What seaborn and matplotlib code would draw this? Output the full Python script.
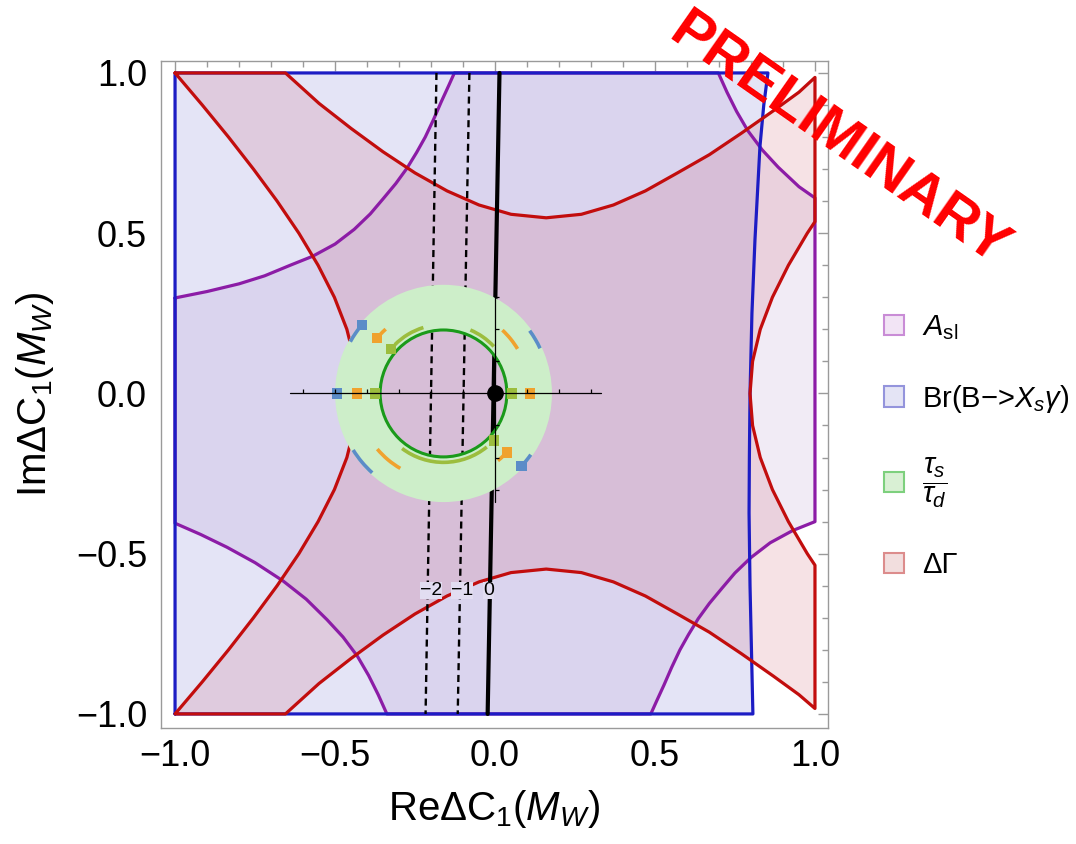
import numpy as np
import matplotlib
matplotlib.use("Agg")
import matplotlib.pyplot as plt
from matplotlib.patches import Patch, Annulus, Arc
from matplotlib.ticker import MultipleLocator, FuncFormatter
import seaborn as sns

# boundaries of the allowed regions (Re, Im)
# Br(B -> X_s gamma)
br_x = [-1.0, -1.0, 0.853, 0.84, 0.828, 0.8125, 0.803, 0.797, 0.795, 0.794, 0.797, 0.806]
br_y = [-1.0, 1.0, 1.0, 0.9, 0.77, 0.48, 0.25, 0.0, -0.2, -0.373, -0.6, -1.0]

# A_sl
asl_x = [-1.0, -0.9, -0.8, -0.72, -0.64, -0.57, -0.5, -0.44, -0.39, -0.35, -0.31, -0.275,
         -0.245, -0.218, -0.192, -0.168, -0.145, -0.127,
         0.698, 0.725, 0.755, 0.79, 0.835, 0.885, 0.95, 1.0,
         1.0, 0.93, 0.86, 0.80, 0.75, 0.71, 0.67, 0.635, 0.605, 0.578, 0.552, 0.528, 0.505, 0.487,
         -0.338, -0.365, -0.395, -0.43, -0.475, -0.525, -0.59, -0.6625, -0.75, -0.8375, -0.92, -1.0]
asl_y = [0.298, 0.318, 0.342, 0.367, 0.4, 0.428, 0.466, 0.512, 0.56, 0.607, 0.655, 0.703,
         0.752, 0.8, 0.855, 0.91, 0.96, 1.0,
         1.0, 0.94, 0.88, 0.82, 0.76, 0.706, 0.645, 0.61,
         -0.4, -0.428, -0.466, -0.512, -0.56, -0.607, -0.655, -0.703, -0.752, -0.8, -0.855, -0.91, -0.96, -1.0,
         -1.0, -0.94, -0.88, -0.82, -0.76, -0.706, -0.642, -0.585, -0.528, -0.48, -0.44, -0.405]

# Delta Gamma
dg_x = [-1.0, -0.655, -0.55, -0.45, -0.35, -0.25, -0.15, -0.05, 0.05, 0.16, 0.27, 0.37, 0.47,
        0.57, 0.67, 0.77, 0.87, 0.95, 1.0,
        1.0, 0.976, 0.917, 0.867, 0.829, 0.805, 0.797, 0.805, 0.829, 0.867, 0.917, 0.976, 1.0,
        1.0, 0.95, 0.87, 0.77, 0.67, 0.57, 0.47, 0.37, 0.27, 0.16, 0.05, -0.05, -0.15, -0.25,
        -0.35, -0.45, -0.55, -0.655,
        -1.0, -0.915, -0.833, -0.755, -0.681, -0.613, -0.553, -0.502, -0.463, -0.438, -0.43,
        -0.438, -0.463, -0.502, -0.553, -0.613, -0.681, -0.755, -0.833, -0.915]
dg_y = [1.0, 1.0, 0.905, 0.827, 0.754, 0.688, 0.632, 0.588, 0.559, 0.548, 0.559, 0.588, 0.632,
        0.688, 0.745, 0.812, 0.882, 0.94, 0.986,
        0.536, 0.5, 0.4, 0.3, 0.2, 0.1, 0.0, -0.1, -0.2, -0.3, -0.4, -0.5, -0.536,
        -0.983, -0.94, -0.882, -0.812, -0.745, -0.688, -0.632, -0.588, -0.559, -0.548, -0.559,
        -0.588, -0.632, -0.688, -0.754, -0.827, -0.905, -1.0,
        -1.0, -0.9, -0.8, -0.7, -0.6, -0.5, -0.4, -0.3, -0.2, -0.1, 0.0,
        0.1, 0.2, 0.3, 0.4, 0.5, 0.6, 0.7, 0.8, 0.9]

# tau_s/tau_d band: ring centre and radii
tau_cx, tau_r_in, tau_r_out = -0.161, 0.198, 0.339

# contour lines (dashed -2, -1, thick 0)
c_m2_x, c_m2_y = [-0.183, -0.217], [1.0, -1.0]
c_m1_x, c_m1_y = [-0.080, -0.1165], [1.0, -1.0]
c_0_x, c_0_y = [0.014, -0.023], [1.0, -1.0]
c_labels = ["\u22122", "\u22121", "0"]
c_label_x = [-0.2, -0.103, -0.02]
c_label_y = -0.614

# dashed rings inside the band: radius, colour, arc pieces (deg), square markers (deg)
ring_r = [0.215, 0.27, 0.333]
ring_col = ["#9cbd3e", "#f0a22e", "#5b8cc8"]
ring_arcs = [[(107, 135), (43, 67), (233, 309)],
             [(31, 47), (220, 240), (132, 143), (-51, -40)],
             [(140, 151), (25, 36), (212, 228), (-43, -35)]]
ring_marks = [[0, 180, 140, -43],
              [0, 180, 140, -43],
              [180, 140, -43]]

cross_h = [-0.64, 0.33]
cross_v = [-0.34, 0.34]
cross_ticks_x = [-0.6, -0.5, -0.4, -0.3, -0.2, -0.1, 0.1, 0.2, 0.3]
cross_ticks_y = [-0.3, -0.2, -0.1, 0.1, 0.2, 0.3]

axis_ticks = [-1.0, -0.5, 0.0, 0.5, 1.0]

sns.set_theme(style="white")
plt.rcParams['font.family'] = ['Liberation Sans', 'DejaVu Sans']
plt.rcParams['mathtext.fontset'] = 'custom'
plt.rcParams['mathtext.rm'] = 'Liberation Sans'
plt.rcParams['mathtext.it'] = 'Liberation Sans:italic'
plt.rcParams['text.color'] = 'black'

fig = plt.figure(figsize=(10.76, 8.44), dpi=100)
ax = fig.add_axes([0.1496, 0.1374, 0.620, 0.7906])

blue_fill = (75/255, 75/255, 195/255, 0.15)
purp_fill = (161/255, 121/255, 193/255, 0.15)
red_fill = (198/255, 65/255, 85/255, 0.15)

ax.fill(br_x, br_y, color=blue_fill, lw=0)
ax.fill(asl_x, asl_y, color=purp_fill, lw=0)
ax.fill(dg_x, dg_y, color=red_fill, lw=0)

def outline(xs, ys, col):
    sns.lineplot(x=list(xs) + [xs[0]], y=list(ys) + [ys[0]], sort=False, estimator=None,
                 color=col, lw=2.3, ax=ax, zorder=3)

outline(asl_x, asl_y, "#8c1ca6")
outline(br_x, br_y, "#1c1cc4")
outline(dg_x, dg_y, "#c20d0d")

for cx_, cy_, ls, lw in [(c_m2_x, c_m2_y, (0, (3, 2)), 1.7), (c_m1_x, c_m1_y, (0, (3, 2)), 1.7),
                          (c_0_x, c_0_y, '-', 3.0)]:
    ax.plot(cx_, cy_, color="black", ls=ls, lw=lw, zorder=4)

ax.add_patch(Annulus((tau_cx, 0), tau_r_out, tau_r_out - tau_r_in, facecolor="#cdeec9",
                     edgecolor="none", zorder=5))
ax.add_patch(plt.Circle((tau_cx, 0), tau_r_in, fill=False, edgecolor="#1a9a1a", lw=2.2, zorder=6))

for r, col, arcs, marks in zip(ring_r, ring_col, ring_arcs, ring_marks):
    for t1, t2 in arcs:
        ax.add_patch(Arc((tau_cx, 0), 2 * r, 2 * r, theta1=t1, theta2=t2, color=col, lw=2.6, zorder=7))
    th = np.radians(marks)
    sns.scatterplot(x=tau_cx + r * np.cos(th), y=r * np.sin(th), marker='s', s=55, color=col,
                    edgecolor="none", ax=ax, zorder=8)

ax.plot(cross_h, [0, 0], color="black", lw=0.9, zorder=9)
ax.plot([0, 0], cross_v, color="black", lw=0.9, zorder=9)
ax.vlines(cross_ticks_x, 0, 0.013, color="black", lw=0.9, zorder=9)
ax.hlines(cross_ticks_y, 0, 0.013, color="black", lw=0.9, zorder=9)
ax.plot([0], [0], 'o', color="black", ms=11, zorder=10)

for lab, lx in zip(c_labels, c_label_x):
    ax.text(lx, c_label_y, lab, fontsize=14, ha="center", va="center", zorder=10,
            bbox=dict(facecolor="#e2ddf1", edgecolor="none", pad=0.2))

ax.set_xlim(-1.044, 1.041)
ax.set_ylim(-1.044, 1.038)
ax.set_xticks(axis_ticks)
ax.set_yticks(axis_ticks)
fmt = FuncFormatter(lambda v, p: ("%.1f" % v).replace("-", "\u2212"))
ax.xaxis.set_major_formatter(fmt)
ax.yaxis.set_major_formatter(fmt)
ax.xaxis.set_minor_locator(MultipleLocator(0.1))
ax.yaxis.set_minor_locator(MultipleLocator(0.1))
ax.tick_params(which="both", direction="in", top=True, right=True, color="#9a9a9a", width=1)
ax.tick_params(which="major", length=7, labelsize=26, colors="#9a9a9a", labelcolor="black")
ax.tick_params(which="minor", length=4)
ax.tick_params(axis="x", pad=8)
ax.tick_params(axis="y", pad=10)
for sp in ax.spines.values():
    sp.set_color("#9a9a9a")
    sp.set_linewidth(1.0)
ax.set_xlabel("Re\u0394C$_1$($M_W$)", fontsize=29, labelpad=10, color="black")
ax.set_ylabel("Im\u0394C$_1$($M_W$)", fontsize=29, labelpad=14, color="black")

handles = [Patch(facecolor="#f2e4f5", edgecolor="#c98cd6", lw=1.5),
           Patch(facecolor="#e4e4f5", edgecolor="#9494dc", lw=1.5),
           Patch(facecolor="#d9f0d4", edgecolor="#7dd07d", lw=1.5),
           Patch(facecolor="#f2dede", edgecolor="#dc8c8c", lw=1.5)]
labels = [r"$A_{\rm sl}$", r"Br(B$-$>$X_s\gamma$)", r"$\dfrac{\tau_s}{\tau_d}$", "\u0394\u0393"]
leg = fig.legend(handles, labels, loc="upper left", bbox_to_anchor=(0.797, 0.66), frameon=False,
                 fontsize=21, handlelength=0.7, handleheight=0.7, labelspacing=1.4, handletextpad=0.6)
for t in leg.get_texts():
    t.set_color("black")

fig.text(0.7788, 0.834, "PRELIMINARY", color="#ff0000", fontsize=42, fontweight="bold",
         rotation=-35, ha="center", va="center", rotation_mode="anchor")

fig.savefig("out.png", dpi=100)
